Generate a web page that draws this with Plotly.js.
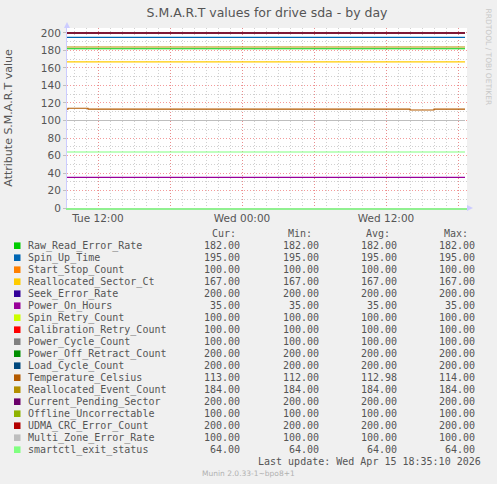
<!DOCTYPE html>
<html><head><meta charset="utf-8">
<script src="https://cdn.plot.ly/plotly-3.0.1.min.js"></script>
<style>html,body{margin:0;padding:0;background:#f0f0f0;}</style>
</head><body><div id="chart" style="width:497px;height:484px;"></div>
<script>
// ---- data ----
const times = ["2026-04-14 09:25","2026-04-14 09:30","2026-04-14 11:10","2026-04-15 14:00","2026-04-15 16:00","2026-04-15 18:35"];
const seriesNames = ["Raw_Read_Error_Rate","Spin_Up_Time","Start_Stop_Count","Reallocated_Sector_Ct","Seek_Error_Rate","Power_On_Hours","Spin_Retry_Count","Calibration_Retry_Count","Power_Cycle_Count","Power_Off_Retract_Count","Load_Cycle_Count","Temperature_Celsius","Reallocated_Event_Count","Current_Pending_Sector","Offline_Uncorrectable","UDMA_CRC_Error_Count","Multi_Zone_Error_Rate","smartctl_exit_status"];
const seriesColors = ["#00CC00","#0066B3","#FF8000","#FFCC00","#330099","#990099","#CCFF00","#FF0000","#808080","#008F00","#00487D","#B35A00","#B38F00","#6B006B","#8FB300","#B30000","#BEBEBE","#80FF80"];
const rawReadErrorRate      = [182,182,182,182,182,182];
const spinUpTime            = [195,195,195,195,195,195];
const startStopCount        = [100,100,100,100,100,100];
const reallocatedSectorCt   = [167,167,167,167,167,167];
const seekErrorRate         = [200,200,200,200,200,200];
const powerOnHours          = [35,35,35,35,35,35];
const spinRetryCount        = [100,100,100,100,100,100];
const calibrationRetryCount = [100,100,100,100,100,100];
const powerCycleCount       = [100,100,100,100,100,100];
const powerOffRetractCount  = [200,200,200,200,200,200];
const loadCycleCount        = [200,200,200,200,200,200];
const temperatureCelsius    = [113,114,113,112,113,113];
const reallocatedEventCount = [184,184,184,184,184,184];
const currentPendingSector  = [200,200,200,200,200,200];
const offlineUncorrectable  = [100,100,100,100,100,100];
const udmaCrcErrorCount     = [200,200,200,200,200,200];
const multiZoneErrorRate    = [100,100,100,100,100,100];
const smartctlExitStatus    = [64,64,64,64,64,64];
const seriesValues = [rawReadErrorRate,spinUpTime,startStopCount,reallocatedSectorCt,seekErrorRate,powerOnHours,spinRetryCount,calibrationRetryCount,powerCycleCount,powerOffRetractCount,loadCycleCount,temperatureCelsius,reallocatedEventCount,currentPendingSector,offlineUncorrectable,udmaCrcErrorCount,multiZoneErrorRate,smartctlExitStatus];
const curVals = [182,195,100,167,200,35,100,100,100,200,200,113,184,200,100,200,100,64];
const minVals = [182,195,100,167,200,35,100,100,100,200,200,112,184,200,100,200,100,64];
const avgVals = [182,195,100,167,200,35,100,100,100,200,200,112.98,184,200,100,200,100,64];
const maxVals = [182,195,100,167,200,35,100,100,100,200,200,114,184,200,100,200,100,64];
const xTickVals = ["2026-04-14 12:00","2026-04-14 18:00","2026-04-15 00:00","2026-04-15 06:00","2026-04-15 12:00","2026-04-15 18:00"];
const xTickText = ["Tue 12:00","","Wed 00:00","","Wed 12:00",""];
const statHeaders = ["Cur:","Min:","Avg:","Max:"];
const titleText = "S.M.A.R.T values for drive sda - by day";
const yTitle = "Attribute S.M.A.R.T value";
const lastUpdate = "Last update: Wed Apr 15 18:35:10 2026";
const muninVersion = "Munin 2.0.33-1~bpo8+1";
const watermark = "RRDTOOL / TOBI OETIKER";

// ---- geometry ----
const W = 497, H = 484, L = 67, R = 467, T = 28, B = 208;
const px = x => (x - L) / (R - L);
const py = y => (B - y) / (B - T);

const traces = seriesNames.map((n, i) => ({
  type: 'scatter', mode: 'lines', name: n, x: times, y: seriesValues[i],
  line: {color: seriesColors[i], width: 1.1, shape: 'hv'}, hoverinfo: 'skip'
}));

const mono = "DejaVu Sans Mono";
const annotations = [];
const shapes = [];
const rowY0 = 245.7, rowStep = 12;
const colRight = [242, 321, 399, 477];
const headRight = [238, 314, 392, 470];
seriesNames.forEach((n, i) => {
  const y = rowY0 + rowStep * i;
  shapes.push({type:'rect', xref:'paper', yref:'paper', x0:px(14), x1:px(20.5), y0:py(y+3.3), y1:py(y-3.3), fillcolor: seriesColors[i], line:{width:0}});
  annotations.push({xref:'paper', yref:'paper', x:px(26), y:py(y), xanchor:'left', yanchor:'middle', showarrow:false, text:n, font:{family:mono, size:10, color:'#555'}});
  [curVals, minVals, avgVals, maxVals].forEach((arr, c) => {
    annotations.push({xref:'paper', yref:'paper', x:px(colRight[c]), y:py(y), xanchor:'right', yanchor:'middle', showarrow:false, text:arr[i].toFixed(2), font:{family:mono, size:10, color:'#555'}});
  });
});
statHeaders.forEach((h, c) => {
  annotations.push({xref:'paper', yref:'paper', x:px(headRight[c]), y:py(233.3), xanchor:'right', yanchor:'middle', showarrow:false, text:h, font:{family:mono, size:10, color:'#555'}});
});
annotations.push({xref:'paper', yref:'paper', x:px(483), y:py(461), xanchor:'right', yanchor:'middle', showarrow:false, text:lastUpdate.replace(/ /g,'\u00a0'), font:{family:mono, size:10, color:'#555'}});
annotations.push({xref:'paper', yref:'paper', x:px(248), y:py(473.5), xanchor:'center', yanchor:'middle', showarrow:false, text:muninVersion, font:{family:'DejaVu Sans', size:7.5, color:'#b0b0b0'}});
annotations.push({xref:'paper', yref:'paper', x:px(488.5), y:py(57), xanchor:'center', yanchor:'middle', showarrow:false, textangle:90, text:watermark, font:{family:'DejaVu Sans', size:7.5, color:'#c8c8c8'}});

// axis arrows
shapes.push({type:'path', xref:'paper', yref:'paper', path:`M ${px(64)} ${py(28)} L ${px(70)} ${py(28)} L ${px(67)} ${py(22)} Z`, fillcolor:'#ccccff', line:{width:0}});
shapes.push({type:'path', xref:'paper', yref:'paper', path:`M ${px(467)} ${py(205)} L ${px(467)} ${py(211)} L ${px(473)} ${py(208)} Z`, fillcolor:'#ccccff', line:{width:0}});

const layout = {
  width: W, height: H,
  margin: {l: L, r: W - R, t: T, b: H - B, pad: 0},
  paper_bgcolor: '#f0f0f0', plot_bgcolor: '#ffffff',
  showlegend: false,
  font: {family: 'DejaVu Sans', size: 10.5, color: '#555'},
  title: {text: titleText, x: 0.5, xanchor: 'center', xref: 'paper', y: 1 - 13/H, yanchor: 'middle', yref: 'container', font: {family: 'DejaVu Sans', size: 12.5, color: '#555'}},
  xaxis: {
    type: 'date', range: ["2026-04-14 09:25", "2026-04-15 18:45"],
    tickmode: 'array', tickvals: xTickVals, ticktext: xTickText,
    showgrid: true, gridcolor: 'rgba(240,120,120,0.75)', griddash: '1px,2px', gridwidth: 1,
    minor: {dtick: 3600000, tick0: "2026-04-14 00:00", showgrid: true, gridcolor: '#d0d0d0', griddash: '1px,2px', gridwidth: 1},
    showline: true, linecolor: '#90f090', linewidth: 1.5,
    ticks: '', tickfont: {family: 'DejaVu Sans', size: 10.5, color: '#555'},
    zeroline: false, fixedrange: true
  },
  yaxis: {
    range: [0, 205.7], tickmode: 'linear', tick0: 0, dtick: 20,
    showgrid: true, gridcolor: 'rgba(240,120,120,0.75)', griddash: '1px,2px', gridwidth: 1,
    minor: {dtick: 10, showgrid: true, gridcolor: '#d0d0d0', griddash: '1px,2px', gridwidth: 1},
    showline: true, linecolor: '#ccccff', linewidth: 1,
    ticks: 'outside', ticklen: 3, tickcolor: '#c0c0c0',
    tickfont: {family: 'DejaVu Sans', size: 10.5, color: '#555'},
    title: {text: yTitle, standoff: 26, font: {family: 'DejaVu Sans', size: 11, color: '#555'}},
    zeroline: false, fixedrange: true
  },
  annotations, shapes
};
Plotly.newPlot('chart', traces, layout, {displayModeBar: false, staticPlot: true});
</script></body></html>
